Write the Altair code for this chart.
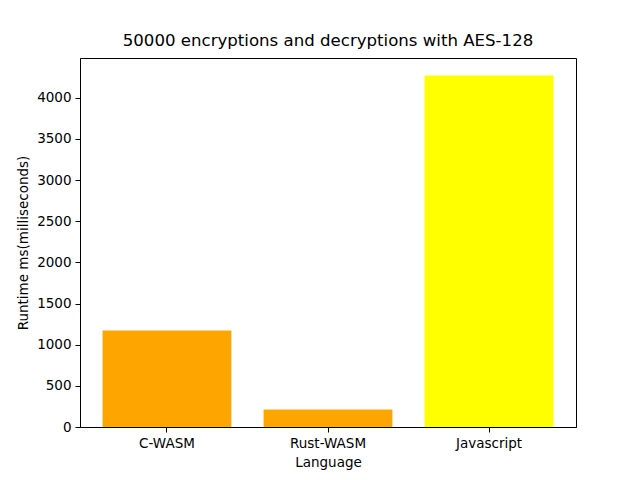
import altair as alt
import pandas as pd

languages = ["C-WASM", "Rust-WASM", "Javascript"]
runtimes = [1171, 214, 4270]
colors = ["#FFA500", "#FFA500", "#FFFF00"]

df = pd.DataFrame({"Language": languages, "Runtime": runtimes, "color": colors})

FONT = "DejaVu Sans"

chart = alt.Chart(df).mark_bar().encode(
    x=alt.X("Language:N", sort=languages,
            scale=alt.Scale(paddingInner=0.2, paddingOuter=0.14),
            axis=alt.Axis(title="Language", labelAngle=0, tickSize=5, labelPadding=4,
                          titlePadding=6, domainColor="black", tickColor="black",
                          labelColor="black", titleColor="black",
                          labelFontSize=13.5, titleFontSize=13.5, titleFontWeight="normal",
                          labelFont=FONT, titleFont=FONT, grid=False)),
    y=alt.Y("Runtime:Q", scale=alt.Scale(domain=[0, 4483.5], nice=False, zero=True),
            axis=alt.Axis(title="Runtime ms(milliseconds)", values=list(range(0, 4001, 500)),
                          format="d",
                          tickSize=5, labelPadding=4, titlePadding=6,
                          domainColor="black", tickColor="black",
                          labelColor="black", titleColor="black",
                          labelFontSize=13.5, titleFontSize=13.5, titleFontWeight="normal",
                          labelFont=FONT, titleFont=FONT, grid=False)),
    color=alt.Color("color:N", scale=None),
).properties(
    width=496,
    height=369,
    title=alt.TitleParams("50000 encryptions and decryptions with AES-128",
                          font=FONT, fontSize=16.6, fontWeight="normal", color="black",
                          offset=8),
    padding={"left": 80, "top": 58, "right": 64, "bottom": 53},
    autosize=alt.AutoSizeParams(type="none"),
).configure(
    background="white",
    view=alt.ViewConfig(stroke="#000000", strokeWidth=1, strokeOpacity=1),
)

chart.save("out.html", embed_options={"renderer": "svg", "actions": False})
